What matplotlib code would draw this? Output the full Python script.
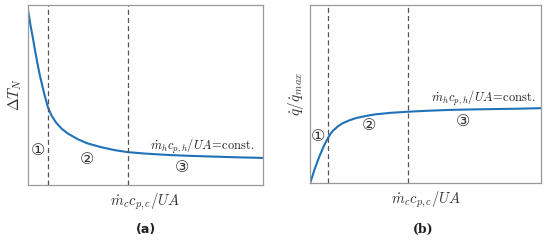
import matplotlib.pyplot as plt

plt.rcParams['mathtext.fontset'] = 'cm'
plt.rcParams['font.family'] = 'DejaVu Serif'

# panel (a): normalised temperature difference vs capacity rate
xa = [0.0, 0.01, 0.02, 0.03, 0.04, 0.05, 0.06, 0.07, 0.085, 0.10, 0.12, 0.145, 0.17,
      0.21, 0.25, 0.31, 0.37, 0.425, 0.5, 0.6, 0.7, 0.8, 0.9, 1.0]
ya = [0.97, 0.89, 0.82, 0.745, 0.675, 0.61, 0.555, 0.50, 0.43, 0.385, 0.345, 0.31, 0.285,
      0.255, 0.232, 0.21, 0.193, 0.182, 0.174, 0.166, 0.161, 0.157, 0.153, 0.15]

# panel (b): heat transfer ratio vs capacity rate
xb = [0.0, 0.01, 0.02, 0.03, 0.04, 0.05, 0.06, 0.07, 0.078, 0.09, 0.10, 0.12, 0.14,
      0.17, 0.2, 0.24, 0.28, 0.35, 0.424, 0.5, 0.6, 0.7, 0.8, 0.9, 1.0]
yb = [0.0, 0.04, 0.08, 0.115, 0.15, 0.18, 0.21, 0.235, 0.255, 0.28, 0.295, 0.318, 0.335,
      0.352, 0.365, 0.376, 0.385, 0.394, 0.40, 0.405, 0.41, 0.413, 0.415, 0.417, 0.42]

dashed_a = [0.085, 0.425]
dashed_b = [0.078, 0.424]

curve_color = '#1f72b8'
grey = '#999999'

fig = plt.figure(figsize=(5.5, 2.43), dpi=100)
ax1 = fig.add_axes([0.051, 0.239, 0.427, 0.741])
ax2 = fig.add_axes([0.564, 0.247, 0.42, 0.733])

const_txt = r'$\dot{m}_h c_{p,h}/UA\!=\!\mathrm{const.}$'
xlab = r'$\dot{m}_c c_{p,c}/UA$'

for ax, x, y, dl in [(ax1, xa, ya, dashed_a), (ax2, xb, yb, dashed_b)]:
    ax.plot(x, y, color=curve_color, lw=1.5)
    for d in dl:
        ax.axvline(d, color='#555555', ls=(0, (4, 2.5)), lw=0.9)
    ax.set_xlim(0, 1)
    ax.set_ylim(0, 1)
    ax.set_xticks([])
    ax.set_yticks([])
    for s in ax.spines.values():
        s.set_color(grey)
        s.set_linewidth(0.9)
    ax.set_xlabel(xlab, fontsize=10.5, labelpad=5, color='#333333')

ax1.set_ylabel(r'$\Delta T_N$', fontsize=11, labelpad=3, color='#333333')
ax2.set_ylabel(r'$\dot{q}/\dot{q}_{max}$', fontsize=11, labelpad=3, color='#333333')

circ = dict(fontsize=11.5, ha='center', va='center', family='DejaVu Sans', color='#333333')
ax1.text(0.043, 0.19, '\u2460', **circ)
ax1.text(0.25, 0.14, '\u2461', **circ)
ax1.text(0.655, 0.095, '\u2462', **circ)
ax1.text(0.965, 0.215, const_txt, fontsize=9, ha='right', va='center', color='#222222')

ax2.text(0.035, 0.26, '\u2460', **circ)
ax2.text(0.255, 0.32, '\u2461', **circ)
ax2.text(0.66, 0.345, '\u2462', **circ)
ax2.text(0.974, 0.475, const_txt, fontsize=9, ha='right', va='center', color='#222222')

fig.text(0.265, 0.055, '(a)', fontsize=9, fontweight='bold', family='DejaVu Sans',
         ha='center', va='center', color='#222222')
fig.text(0.77, 0.055, '(b)', fontsize=9, fontweight='bold', family='DejaVu Serif',
         ha='center', va='center', color='#222222')

fig.savefig('out.png', dpi=100)
